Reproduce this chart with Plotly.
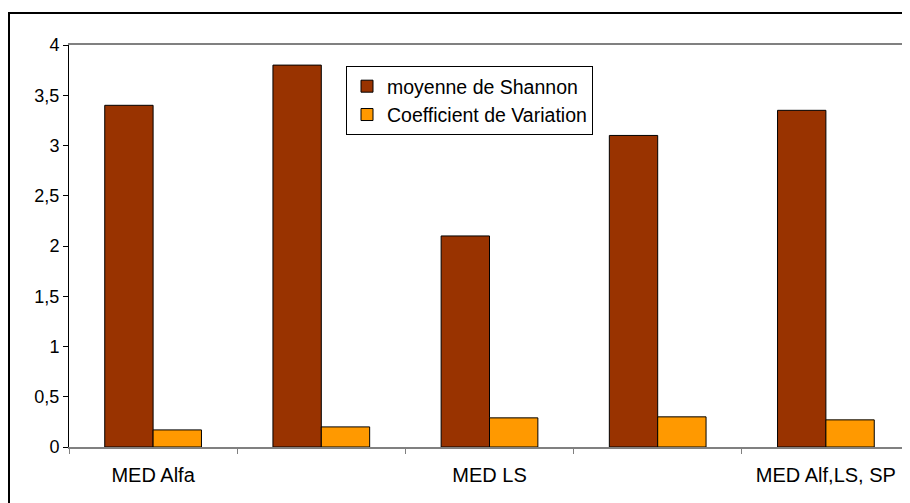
"""
Shannon mean and coefficient of variation per site group (Excel-style bar chart)
"""

import plotly.graph_objects as go

# categories (2nd and 4th labels are hidden in the original, kept blank here)
categories = ["MED Alfa", " ", "MED LS", "  ", "MED Alf,LS, SP"]
shannon_mean = [3.4, 3.8, 2.1, 3.1, 3.35]
coef_variation = [0.17, 0.2, 0.29, 0.3, 0.27]
y_ticks = [0, 0.5, 1, 1.5, 2, 2.5, 3, 3.5, 4]

FONT = "Liberation Sans, Arial, sans-serif"

fig = go.Figure()

fig.add_trace(go.Bar(
    x=categories,
    y=shannon_mean,
    name="moyenne de Shannon",
    marker=dict(color="#993300", line=dict(color="black", width=1)),
))

fig.add_trace(go.Bar(
    x=categories,
    y=coef_variation,
    name="Coefficient de Variation",
    marker=dict(color="#FF9900", line=dict(color="black", width=1)),
))

# the page body adds an 8px offset, so the figure is sized 902x495
W, H = 902, 495
left, top, bottom = 61, 37, 439
plot_w = W - left
plot_h = bottom - top

# outer chart frame (runs off the right and bottom edges like the reference)
fig.add_shape(
    type="rect", xref="paper", yref="paper",
    x0=(1 - left) / plot_w, x1=1.05,
    y0=-0.3, y1=(bottom - 5) / plot_h,
    line=dict(color="black", width=2),
    fillcolor="rgba(0,0,0,0)",
    layer="above",
)

fig.update_layout(
    width=W,
    height=H,
    barmode="group",
    bargap=0.425,
    bargroupgap=0,
    separators=", ",
    plot_bgcolor="white",
    paper_bgcolor="white",
    margin=dict(l=left, r=0, t=top, b=H - bottom),
    font=dict(family=FONT, size=18, color="black"),
    legend=dict(
        x=(338 - left) / plot_w,
        y=(bottom - 58) / plot_h,
        xanchor="left",
        yanchor="top",
        bgcolor="white",
        bordercolor="black",
        borderwidth=1,
        itemwidth=30,
        font=dict(family=FONT, size=19.5, color="black"),
        traceorder="normal",
    ),
    showlegend=True,
)

fig.update_xaxes(
    type="category",
    showline=True,
    linecolor="#808080",
    linewidth=1.5,
    mirror=True,
    ticks="outside",
    tickson="boundaries",
    ticklen=5,
    tickcolor="#808080",
    showgrid=False,
    tickfont=dict(family=FONT, size=20, color="black"),
    ticklabelstandoff=9,
)

fig.update_yaxes(
    range=[0, 4],
    tickvals=y_ticks,
    showline=True,
    linecolor="black",
    linewidth=1,
    ticks="outside",
    ticklen=5,
    tickcolor="black",
    showgrid=False,
    zeroline=False,
    tickfont=dict(family=FONT, size=18, color="black"),
)

fig.write_html("out.html")
